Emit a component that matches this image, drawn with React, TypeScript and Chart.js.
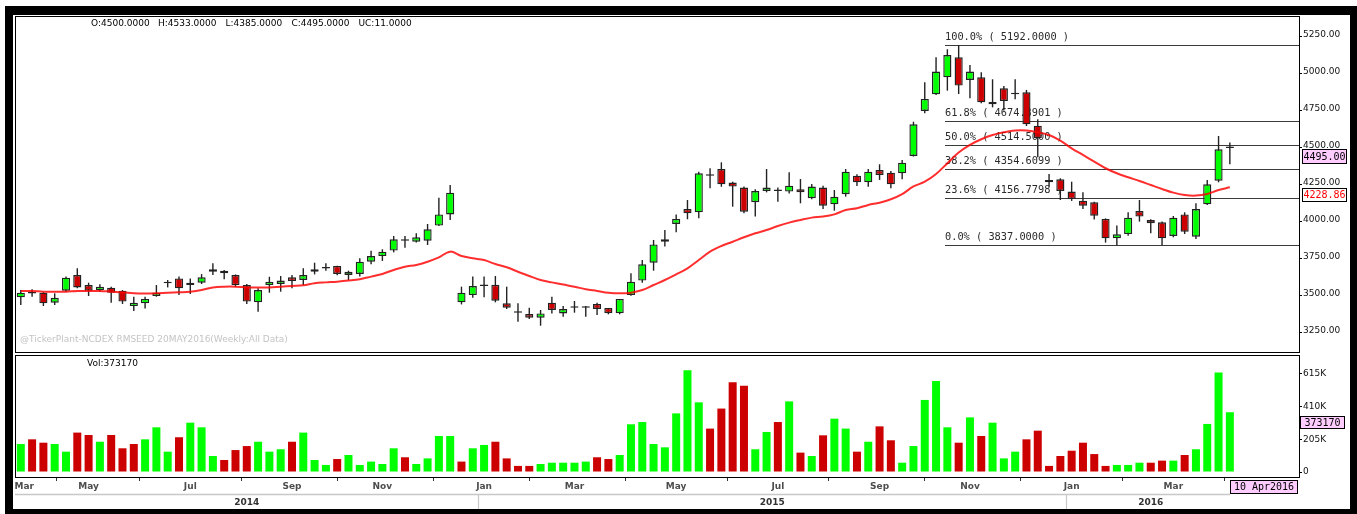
import React, { useEffect, useRef } from 'react';
import { Chart, registerables } from 'chart.js';

Chart.register(...registerables);

// ---------------- data (weekly, starting week of 23 Mar 2014) ----------------
const opens = [
  3485, 3516, 3516, 3449, 3530, 3636, 3568, 3534, 3550, 3530,
  3426, 3444, 3494, 3580, 3613, 3568, 3584, 3674, 3665, 3636,
  3568, 3451, 3568, 3575, 3620, 3602, 3658, 3680, 3697, 3636,
  3643, 3726, 3764, 3801, 3874, 3861, 3868, 3970, 4046, 3451,
  3500, 3561, 3570, 3444, 3385, 3372, 3347, 3449, 3376, 3415,
  3415, 3440, 3413, 3377, 3500, 3598, 3719, 3861, 3981, 4082,
  4060, 4313, 4353, 4261, 4227, 4128, 4204, 4211, 4200, 4216,
  4155, 4227, 4114, 4182, 4308, 4263, 4346, 4328, 4324, 4441,
  4746, 4858, 4973, 5109, 4955, 4973, 4791, 4899, 4858, 4872,
  4646, 4263, 4283, 4200, 4139, 4128, 4015, 3884, 3913, 4069,
  4008, 3992, 3900, 4046, 3895, 4114, 4274, 4500,
];
const highs = [
  3535, 3539, 3520, 3512, 3625, 3681, 3584, 3573, 3557, 3534,
  3489, 3489, 3568, 3602, 3625, 3613, 3642, 3715, 3670, 3640,
  3575, 3546, 3624, 3629, 3636, 3681, 3719, 3715, 3699, 3665,
  3749, 3800, 3810, 3900, 3900, 3918, 3981, 4159, 4245, 3557,
  3625, 3625, 3629, 3557, 3444, 3415, 3399, 3489, 3426, 3460,
  3426, 3449, 3413, 3474, 3647, 3737, 3873, 3940, 4046, 4143,
  4335, 4358, 4398, 4267, 4234, 4216, 4353, 4227, 4331, 4285,
  4252, 4240, 4211, 4353, 4317, 4353, 4385, 4340, 4414, 4673,
  4940, 5109, 5163, 5192, 5057, 5007, 4960, 4915, 4960, 4888,
  4689, 4319, 4290, 4267, 4195, 4132, 4019, 3970, 4060, 4143,
  4013, 3997, 4035, 4060, 4121, 4279, 4576, 4533,
];
const lows = [
  3433, 3489, 3426, 3433, 3523, 3546, 3494, 3523, 3449, 3440,
  3392, 3410, 3489, 3552, 3500, 3507, 3575, 3636, 3607, 3557,
  3440, 3388, 3516, 3523, 3546, 3568, 3640, 3665, 3634, 3602,
  3625, 3708, 3731, 3789, 3821, 3855, 3839, 3967, 4008, 3437,
  3482, 3485, 3451, 3406, 3320, 3338, 3293, 3376, 3354, 3381,
  3354, 3365, 3370, 3370, 3496, 3584, 3665, 3828, 3925, 4013,
  4019, 4222, 4233, 4098, 4053, 4031, 4195, 4132, 4188, 4121,
  4148, 4082, 4071, 4166, 4238, 4233, 4279, 4222, 4283, 4437,
  4730, 4854, 4883, 4860, 4831, 4797, 4770, 4748, 4824, 4644,
  4432, 4234, 4143, 4137, 4082, 4012, 3855, 3837, 3902, 3997,
  3918, 3839, 3891, 3913, 3880, 4110, 4263, 4385,
];
const closes = [
  3516, 3510, 3444, 3482, 3618, 3552, 3530, 3557, 3516, 3456,
  3449, 3474, 3516, 3584, 3546, 3584, 3620, 3658, 3647, 3568,
  3456, 3534, 3591, 3598, 3595, 3636, 3674, 3685, 3643, 3658,
  3726, 3764, 3794, 3877, 3868, 3891, 3945, 4046, 4193, 3516,
  3561, 3568, 3462, 3415, 3381, 3347, 3376, 3399, 3406, 3418,
  3420, 3406, 3377, 3474, 3591, 3708, 3843, 3877, 4015, 4053,
  4324, 4308, 4249, 4234, 4064, 4204, 4227, 4204, 4240, 4195,
  4234, 4105, 4166, 4335, 4263, 4335, 4313, 4249, 4396, 4655,
  4827, 5012, 5124, 4917, 5012, 4804, 4806, 4813, 4865, 4655,
  4561, 4279, 4204, 4150, 4105, 4037, 3884, 3911, 4024, 4031,
  3986, 3884, 4024, 3929, 4082, 4249, 4486, 4495,
];
const volumes = [
  175000, 204000, 183000, 175000, 127000, 246000, 231000, 189000, 231000, 148000,
  175000, 204000, 279000, 127000, 217000, 308000, 279000, 100000, 75000, 137000,
  162000, 189000, 127000, 142000, 189000, 246000, 75000, 44000, 81000, 106000,
  44000, 65000, 50000, 148000, 92000, 50000, 85000, 225000, 225000, 65000,
  148000, 169000, 189000, 85000, 38000, 38000, 50000, 58000, 58000, 58000,
  65000, 92000, 81000, 106000, 298000, 312000, 175000, 154000, 366000, 635000,
  435000, 271000, 396000, 560000, 539000, 142000, 250000, 312000, 441000, 121000,
  100000, 229000, 333000, 271000, 127000, 189000, 285000, 198000, 58000, 162000,
  450000, 568000, 279000, 183000, 341000, 225000, 308000, 85000, 127000, 204000,
  258000, 38000, 100000, 133000, 183000, 112000, 38000, 44000, 44000, 58000,
  58000, 71000, 71000, 106000, 142000, 300000, 622000, 373170,
];
const movingAverage = [
  3528, 3528, 3523, 3523, 3523, 3528, 3528, 3528, 3523, 3519,
  3512, 3510, 3512, 3516, 3519, 3523, 3534, 3552, 3557, 3557,
  3552, 3552, 3552, 3557, 3562, 3566, 3580, 3586, 3591, 3598,
  3607, 3625, 3643, 3670, 3692, 3704, 3726, 3755, 3794, 3764,
  3749, 3737, 3710, 3688, 3658, 3629, 3602, 3586, 3571, 3557,
  3539, 3528, 3516, 3512, 3516, 3534, 3568, 3602, 3640, 3681,
  3737, 3794, 3832, 3861, 3891, 3918, 3940, 3967, 3990, 4008,
  4024, 4031, 4046, 4076, 4087, 4110, 4125, 4148, 4183, 4235,
  4267, 4319, 4392, 4464, 4516, 4554, 4583, 4601, 4613, 4613,
  4601, 4583, 4545, 4493, 4448, 4403, 4358, 4324, 4297, 4272,
  4245, 4218, 4193, 4177, 4173, 4184, 4211, 4228.86,
];

const priceTicks = [3250, 3500, 3750, 4000, 4250, 4500, 4750, 5000, 5250];
const volumeTicks = [0, 205000, 410000, 615000];
const monthTickIndex = [0.3, 6, 15, 24, 32, 41, 49, 58, 67, 76, 84, 93, 102];
const monthTickLabels = ['Mar', 'May', 'Jul', 'Sep', 'Nov', 'Jan', 'Mar', 'May', 'Jul', 'Sep', 'Nov', 'Jan', 'Mar'];
const yearLabels = ['2014', '2015', '2016'];
const yearBoundaryIndex = [40.5, 92.5, 107.5];
const fibPercents = ['100.0%', '61.8%', '50.0%', '38.2%', '23.6%', '0.0%'];
const fibValues = [5192.0, 4674.3901, 4514.5, 4354.6099, 4156.7798, 3837.0];
const fibAnchorIndex = 82;
const ohlcHeader = ['O:4500.0000', 'H:4533.0000', 'L:4385.0000', 'C:4495.0000', 'UC:11.0000'];
const watermark = '@TickerPlant-NCDEX RMSEED 20MAY2016(Weekly:All Data)';
const lastDateLabel = '10 Apr2016';

// ---------------- styling ----------------
const GREEN = '#00ff00';
const RED = '#cc0000';
const OUTLINE = '#222222';
const PINK = '#ffccff';
const SANS = '"DejaVu Sans", sans-serif';
const MONO = '"DejaVu Sans Mono", monospace';
const X_MIN = -0.513;
const X_MAX = 113.12;

function valueBox(ctx: any, x: number, y: number, w: number, h: number, text: string, fill: string, color: string) {
  ctx.fillStyle = fill;
  ctx.fillRect(x, y, w, h);
  ctx.strokeStyle = '#000';
  ctx.lineWidth = 1;
  ctx.strokeRect(x + 0.5, y + 0.5, w - 1, h - 1);
  ctx.fillStyle = color;
  ctx.font = `10px ${MONO}`;
  ctx.textAlign = 'center';
  ctx.textBaseline = 'middle';
  ctx.fillText(text, x + w / 2, y + h / 2 + 0.5);
}

const pricePlugin = {
  id: 'priceDecor',
  beforeDatasetsDraw(chart: any) {
    const { ctx, chartArea: a, scales } = chart;
    const xs = scales.x;
    const ys = scales.y;
    ctx.save();
    ctx.font = `9px ${SANS}`;
    ctx.fillStyle = '#000';
    ctx.textBaseline = 'middle';
    ctx.textAlign = 'left';
    const headerX = [91, 158, 225.5, 291.5, 358.5];
    ohlcHeader.forEach((t, k) => ctx.fillText(t, headerX[k], 23.5));
    ctx.fillStyle = '#c4c4c4';
    ctx.fillText(watermark, 20, 339.5);

    const x0 = Math.round(xs.getPixelForValue(fibAnchorIndex)) - 2;
    ctx.strokeStyle = '#3a3a3a';
    ctx.lineWidth = 1;
    ctx.font = `10.3px ${MONO}`;
    ctx.fillStyle = '#2a2a2a';
    fibValues.forEach((v, k) => {
      const y = Math.round(ys.getPixelForValue(v)) + 0.5;
      ctx.beginPath();
      ctx.moveTo(x0, y);
      ctx.lineTo(a.right, y);
      ctx.stroke();
      ctx.fillText(`${fibPercents[k]} ( ${v.toFixed(4)} )`, x0, y - 8);
    });
    ctx.restore();
  },
  afterDraw(chart: any) {
    const { ctx, chartArea: a, scales } = chart;
    const ys = scales.y;
    ctx.save();
    ctx.strokeStyle = '#000';
    ctx.lineWidth = 1;
    ctx.strokeRect(a.left + 0.5, a.top + 0.5, a.right - a.left, a.bottom - a.top);
    const lastClose = closes[closes.length - 1];
    const lastMa = movingAverage[movingAverage.length - 1];
    valueBox(ctx, a.right + 3, Math.round(ys.getPixelForValue(lastClose)) + 1, 45, 15, lastClose.toFixed(2), PINK, '#000');
    valueBox(ctx, a.right + 3, Math.round(ys.getPixelForValue(lastMa)) + 1, 45, 14, lastMa.toFixed(2), '#ffffff', '#ff0000');
    ctx.restore();
  },
};

const volumePlugin = {
  id: 'volumeDecor',
  afterDraw(chart: any) {
    const { ctx, chartArea: a, scales } = chart;
    const xs = scales.x;
    const ys = scales.y;
    ctx.save();
    ctx.strokeStyle = '#000';
    ctx.lineWidth = 1;
    ctx.strokeRect(a.left + 0.5, a.top + 0.5, a.right - a.left, a.bottom - a.top);

    const lastVol = volumes[volumes.length - 1];
    ctx.font = `9px ${SANS}`;
    ctx.fillStyle = '#000';
    ctx.textAlign = 'left';
    ctx.textBaseline = 'middle';
    ctx.fillText(`Vol:${lastVol}`, 87, 9.5);

    valueBox(ctx, a.right + 1, Math.round(ys.getPixelForValue(lastVol)) + 4, 45, 13, String(lastVol), PINK, '#000');

    // date box
    const bx = Math.round(xs.getPixelForValue(closes.length - 1));
    const bw = a.right - 1 - bx;
    valueBox(ctx, bx, a.bottom + 3, bw, 14, lastDateLabel, PINK, '#000');

    // year band
    const lineY = a.bottom + 17.5;
    ctx.strokeStyle = '#c8c8c8';
    ctx.lineWidth = 1.5;
    ctx.beginPath();
    ctx.moveTo(a.left, lineY);
    ctx.lineTo(bx, lineY);
    ctx.stroke();
    const bounds = [a.left, ...yearBoundaryIndex.map((v) => xs.getPixelForValue(v))];
    ctx.lineWidth = 1.2;
    for (let k = 1; k < bounds.length - 1; k++) {
      const x = Math.round(bounds[k]) + 0.5;
      ctx.beginPath();
      ctx.moveTo(x, lineY);
      ctx.lineTo(x, a.bottom + 32);
      ctx.stroke();
    }
    ctx.font = `bold 9px ${SANS}`;
    ctx.fillStyle = '#333';
    ctx.textAlign = 'center';
    ctx.textBaseline = 'middle';
    yearLabels.forEach((t, k) => ctx.fillText(t, (bounds[k] + bounds[k + 1]) / 2, a.bottom + 25.5));
    ctx.restore();
  },
};

function zeroPad(s: any) {
  s.paddingTop = 0;
  s.paddingBottom = 0;
  s.paddingLeft = 0;
  s.paddingRight = 0;
}

function buildPriceChart(canvas: HTMLCanvasElement) {
  const idx = opens.map((_, i) => i);
  const bodyData = idx.map((i) => ({ x: i, y: [Math.min(opens[i], closes[i]), Math.max(opens[i], closes[i])] }));
  const wickData = idx.map((i) => ({ x: i, y: [lows[i], highs[i]] }));
  const bodyColors = idx.map((i) => (closes[i] >= opens[i] ? GREEN : RED));
  const maData = idx.map((i) => ({ x: i, y: movingAverage[i] }));
  return new Chart(canvas, {
    type: 'bar',
    data: {
      datasets: [
        {
          type: 'line',
          data: maData as any,
          borderColor: 'rgba(255,0,0,0.82)',
          borderWidth: 2,
          pointRadius: 0,
          tension: 0.35,
          order: 0,
        } as any,
        {
          type: 'bar',
          data: bodyData as any,
          backgroundColor: bodyColors,
          borderColor: OUTLINE,
          borderWidth: 1.4,
          borderSkipped: false,
          grouped: false,
          maxBarThickness: 8.5,
          minBarLength: 1.5,
          inflateAmount: 0,
          order: 1,
        } as any,
        {
          type: 'bar',
          data: wickData as any,
          backgroundColor: OUTLINE,
          borderWidth: 0,
          grouped: false,
          maxBarThickness: 1.4,
          inflateAmount: 0,
          order: 3,
        } as any,
      ],
    },
    options: {
      animation: false,
      responsive: false,
      maintainAspectRatio: false,
      events: [],
      layout: { padding: { left: 15, top: 16, right: 7, bottom: 2 }, autoPadding: false } as any,
      plugins: { legend: { display: false }, tooltip: { enabled: false } },
      scales: {
        x: { type: 'linear', min: X_MIN, max: X_MAX, display: false, offset: false },
        y: {
          type: 'linear',
          position: 'right',
          min: 3115,
          max: 5388,
          afterBuildTicks: (s: any) => {
            s.ticks = priceTicks.map((v) => ({ value: v }));
          },
          afterFit: (s: any) => {
            s.width = 51;
            zeroPad(s);
          },
          grid: { drawOnChartArea: false, drawTicks: true, tickLength: 3, color: '#000', lineWidth: 1 },
          border: { display: false },
          ticks: {
            autoSkip: false,
            color: '#111',
            padding: 1,
            labelOffset: -1.5,
            font: { family: 'DejaVu Sans', size: 9 },
            callback: (v: any) => Number(v).toFixed(2),
          },
        },
      },
    } as any,
    plugins: [pricePlugin],
  });
}

function buildVolumeChart(canvas: HTMLCanvasElement) {
  const idx = volumes.map((_, i) => i);
  const volData = idx.map((i) => ({ x: i, y: volumes[i] }));
  const volColors = idx.map((i) => (i === 0 || closes[i] >= closes[i - 1] ? GREEN : RED));
  return new Chart(canvas, {
    type: 'bar',
    data: {
      datasets: [
        {
          data: volData as any,
          backgroundColor: volColors,
          borderWidth: 0,
          grouped: false,
          maxBarThickness: 8,
          inflateAmount: 0,
        } as any,
      ],
    },
    options: {
      animation: false,
      responsive: false,
      maintainAspectRatio: false,
      events: [],
      layout: { padding: { left: 15, top: 1, right: 7, bottom: 5 }, autoPadding: false } as any,
      plugins: { legend: { display: false }, tooltip: { enabled: false } },
      scales: {
        x: {
          type: 'linear',
          min: X_MIN,
          max: X_MAX,
          offset: false,
          afterBuildTicks: (s: any) => {
            s.ticks = monthTickIndex.map((v) => ({ value: v }));
          },
          afterFit: (s: any) => {
            s.height = 32;
            zeroPad(s);
          },
          grid: { drawOnChartArea: false, drawTicks: true, tickLength: 4, color: '#333', lineWidth: 1 },
          border: { display: false },
          ticks: {
            autoSkip: false,
            maxRotation: 0,
            padding: 0,
            color: '#4d4d4d',
            font: { family: 'DejaVu Sans', size: 9, weight: 'bold' },
            callback: (_v: any, i: number) => monthTickLabels[i] ?? '',
          },
        },
        y: {
          type: 'linear',
          position: 'right',
          min: -31200,
          max: 730500,
          afterBuildTicks: (s: any) => {
            s.ticks = volumeTicks.map((v) => ({ value: v }));
          },
          afterFit: (s: any) => {
            s.width = 51;
            zeroPad(s);
          },
          grid: { drawOnChartArea: false, drawTicks: true, tickLength: 3, color: '#000', lineWidth: 1 },
          border: { display: false },
          ticks: {
            autoSkip: false,
            color: '#111',
            padding: 1,
            font: { family: 'DejaVu Sans', size: 9 },
            callback: (v: any) => (Number(v) === 0 ? '0' : `${Math.round(Number(v) / 1000)}K`),
          },
        },
      },
    } as any,
    plugins: [volumePlugin],
  });
}

export default function App() {
  const priceRef = useRef<HTMLCanvasElement>(null);
  const volRef = useRef<HTMLCanvasElement>(null);

  useEffect(() => {
    const pc = buildPriceChart(priceRef.current as HTMLCanvasElement);
    const vc = buildVolumeChart(volRef.current as HTMLCanvasElement);
    return () => {
      pc.destroy();
      vc.destroy();
    };
  }, []);

  return (
    <div style={{ position: 'fixed', left: 0, top: 0, width: 1357, height: 514, background: '#fff', overflow: 'hidden' }}>
      <div style={{ position: 'absolute', left: 5, top: 6, width: 1352, height: 508, background: '#000' }} />
      <div style={{ position: 'absolute', left: 13, top: 15, width: 1337, height: 494, background: '#fff' }} />
      <canvas
        ref={priceRef}
        width={1357}
        height={354}
        style={{ position: 'absolute', left: 0, top: 0, width: 1357, height: 354 }}
      />
      <canvas
        ref={volRef}
        width={1357}
        height={160}
        style={{ position: 'absolute', left: 0, top: 354, width: 1357, height: 160 }}
      />
    </div>
  );
}
